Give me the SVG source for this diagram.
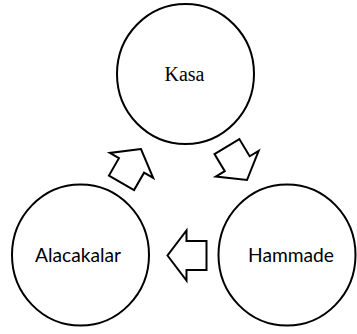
<svg xmlns="http://www.w3.org/2000/svg" width="357" height="334" viewBox="0 0 357 334">
  <style>
    .node { fill: #ffffff; stroke: #000000; stroke-width: 2; }
    .serif { font-family: "Liberation Serif", "Times New Roman", serif; font-size: 20px; fill: #000000; }
    .sans { font-family: Lato, "Open Sans", "Liberation Sans", sans-serif; font-size: 20px; fill: #000000; }
    .flow { fill: #ffffff; stroke: #000000; stroke-width: 2; stroke-linejoin: miter; }
  </style>
  <defs>
    <!-- block arrow pointing along +x, tip at the origin -->
    <polygon id="block-arrow" points="0,0 -19,-25 -19,-14.5 -39,-14.5 -39,14.5 -19,14.5 -19,25"/>
  </defs>

  <g id="kasa">
    <ellipse class="node" cx="185.5" cy="74" rx="68.5" ry="70"/>
    <text class="serif" x="184.5" y="81" text-anchor="middle">Kasa</text>
  </g>

  <g id="alacakalar">
    <ellipse class="node" cx="80.5" cy="255" rx="68.5" ry="70.5"/>
    <text class="sans" x="78" y="262" text-anchor="middle" textLength="86" lengthAdjust="spacingAndGlyphs">Alacakalar</text>
  </g>

  <g id="hammade">
    <ellipse class="node" cx="287" cy="255" rx="68.5" ry="70.5"/>
    <text class="sans" x="291" y="262" text-anchor="middle" textLength="86" lengthAdjust="spacingAndGlyphs">Hammade</text>
  </g>

  <g id="connectors">
    <!-- Kasa to Hammade -->
    <use href="#block-arrow" class="flow" transform="translate(247,180) rotate(59)"/>
    <!-- Hammade to Alacakalar -->
    <use href="#block-arrow" class="flow" transform="translate(167.5,255.5) rotate(180)"/>
    <!-- Alacakalar to Kasa -->
    <use href="#block-arrow" class="flow" transform="translate(141,149) rotate(-60)"/>
  </g>
</svg>
